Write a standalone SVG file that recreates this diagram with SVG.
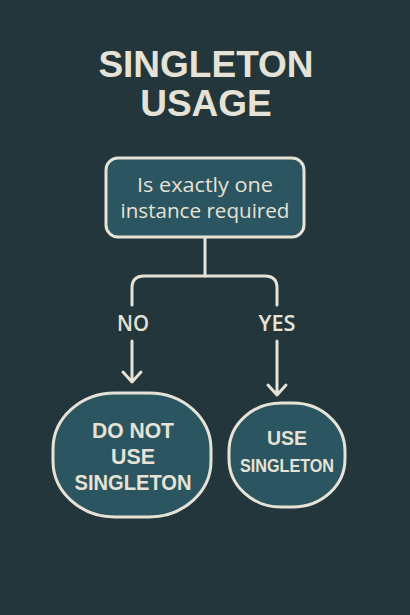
<svg xmlns="http://www.w3.org/2000/svg" width="410" height="615" viewBox="0 0 410 615">
<style>
.bg{fill:#22363c}
.node{fill:#2b5560;stroke:#e6e2d6;stroke-width:3}
.t{fill:#e6e2d6;font-family:"Open Sans","Liberation Sans",Arial,sans-serif;text-anchor:middle}
.title{font-family:"Liberation Sans",Arial,sans-serif;font-weight:bold;font-size:37px}
.q{font-size:20px;font-weight:500}
.lbl{font-size:21px;font-weight:600}
.cap{font-family:"Liberation Sans",Arial,sans-serif;font-size:22px;font-weight:bold}
.conn{fill:none;stroke:#e6e2d6;stroke-width:3;stroke-linecap:round;stroke-linejoin:round}
</style>
<rect class="bg" x="0" y="0" width="410" height="615"/>
<g id="title">
<text class="t title" x="206" y="77">SINGLETON</text>
<text class="t title" x="206" y="116">USAGE</text>
</g>
<g id="connectors">
<path class="conn" d="M205,237 V276"/>
<path class="conn" d="M132,305 V288 Q132,276 144,276 H265 Q277,276 277,288 V305"/>
<path class="conn" d="M132,341 V381 M123,372 L132,382 L141,372"/>
<path class="conn" d="M277,341 V394 M268,385 L277,395 L286,385"/>
<text class="t lbl" x="133" y="331" textLength="32" lengthAdjust="spacingAndGlyphs">NO</text>
<text class="t lbl" x="277" y="331" textLength="37" lengthAdjust="spacingAndGlyphs">YES</text>
</g>
<g id="question">
<rect class="node" x="106" y="158" width="198" height="79" rx="12"/>
<text class="t q" x="205" y="192" textLength="136" lengthAdjust="spacingAndGlyphs">Is exactly one</text>
<text class="t q" x="205" y="218" textLength="169" lengthAdjust="spacingAndGlyphs">instance required</text>
</g>
<g id="no-node">
<rect class="node" x="53" y="393" width="158" height="124" rx="62" ry="56"/>
<text class="t cap" x="133" y="438" textLength="82" lengthAdjust="spacingAndGlyphs">DO NOT</text>
<text class="t cap" x="133" y="464" textLength="44" lengthAdjust="spacingAndGlyphs">USE</text>
<text class="t cap" x="133" y="490" textLength="117" lengthAdjust="spacingAndGlyphs">SINGLETON</text>
</g>
<g id="yes-node">
<rect class="node" x="229" y="403" width="116" height="104" rx="52" ry="48"/>
<text class="t cap" style="font-size:21px" x="287" y="445" textLength="40" lengthAdjust="spacingAndGlyphs">USE</text>
<text class="t cap" style="font-size:19px" x="287" y="472" textLength="94" lengthAdjust="spacingAndGlyphs">SINGLETON</text>
</g>
</svg>
